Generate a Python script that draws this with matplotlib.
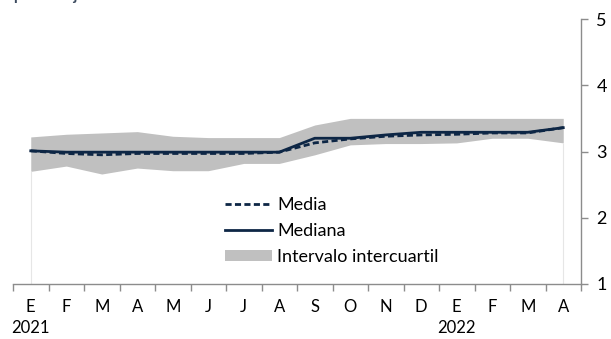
import matplotlib.pyplot as plt
import numpy as np

# --- datos ---
meses = ['E', 'F', 'M', 'A', 'M', 'J', 'J', 'A', 'S', 'O', 'N', 'D', 'E', 'F', 'M', 'A']
anios = {0: '2021', 12: '2022'}

media = [3.01, 2.97, 2.95, 2.97, 2.97, 2.97, 2.97, 2.99, 3.13, 3.19, 3.23, 3.25, 3.26, 3.28, 3.28, 3.36]
mediana = [3.01, 2.99, 2.99, 2.99, 2.99, 2.99, 2.99, 2.99, 3.20, 3.20, 3.25, 3.29, 3.29, 3.29, 3.29, 3.36]
p75 = [3.22, 3.26, 3.28, 3.30, 3.23, 3.21, 3.21, 3.21, 3.40, 3.50, 3.50, 3.50, 3.50, 3.50, 3.50, 3.50]
p25 = [2.70, 2.78, 2.66, 2.75, 2.71, 2.71, 2.82, 2.82, 2.95, 3.10, 3.12, 3.12, 3.13, 3.20, 3.20, 3.13]

AZUL = '#0D2645'
GRIS = '#C0C0C0'
EJE = '#8C8C8C'

plt.rcParams['font.family'] = ['Lato', 'DejaVu Sans']

fig = plt.figure(figsize=(6.11, 3.39), dpi=100)
ax = fig.add_axes([13 / 611, 55 / 339, 568 / 611, 265 / 339])

x = np.arange(len(meses))
ax.fill_between(x, p25, p75, color=GRIS, linewidth=0, label='Intervalo intercuartil')
ax.vlines([x[0], x[-1]], 1, [p25[0], p25[-1]], color='#E6E6E6', linewidth=0.8)
ax.plot(x, media, color=AZUL, linewidth=2, linestyle=(0, (2.2, 1.2)), label='Media')
ax.plot(x, mediana, color=AZUL, linewidth=2, label='Mediana')

ax.set_xlim(-0.5, len(meses) - 0.5)
ax.set_ylim(1, 5)

# eje Y a la derecha
ax.yaxis.tick_right()
ax.set_yticks([1, 2, 3, 4, 5])
ax.tick_params(axis='y', direction='out', length=5, width=1, color=EJE, labelsize=13, pad=6)

# eje X: marcas entre categorías, etiquetas en el centro
ax.set_xticks(np.arange(-0.5, len(meses), 1.0))
ax.set_xticklabels([])
ax.tick_params(axis='x', direction='out', length=5, width=1, color=EJE)
for i, m in enumerate(meses):
    ax.text(i, -0.085, m, transform=ax.get_xaxis_transform(), ha='center', va='center', fontsize=12)
for i, a in anios.items():
    ax.text(i, -0.165, a, transform=ax.get_xaxis_transform(), ha='center', va='center', fontsize=12)

for s in ['top', 'left']:
    ax.spines[s].set_visible(False)
for s in ['right', 'bottom']:
    ax.spines[s].set_color(EJE)
    ax.spines[s].set_linewidth(1)

h, l = ax.get_legend_handles_labels()
orden = [1, 2, 0]
ax.legend([h[i] for i in orden], [l[i] for i in orden], loc='center left',
          bbox_to_anchor=(0.36, 0.2), frameon=False, fontsize=13,
          handlelength=2.6, handletextpad=0.3, labelspacing=0.55, handleheight=0.5,
          borderaxespad=0)

fig.text(13 / 611, 1.012, 'porcentaje', fontsize=11, fontweight='bold', color='#3B4A5E',
         ha='left', va='center')

fig.savefig('out.png', dpi=100)
